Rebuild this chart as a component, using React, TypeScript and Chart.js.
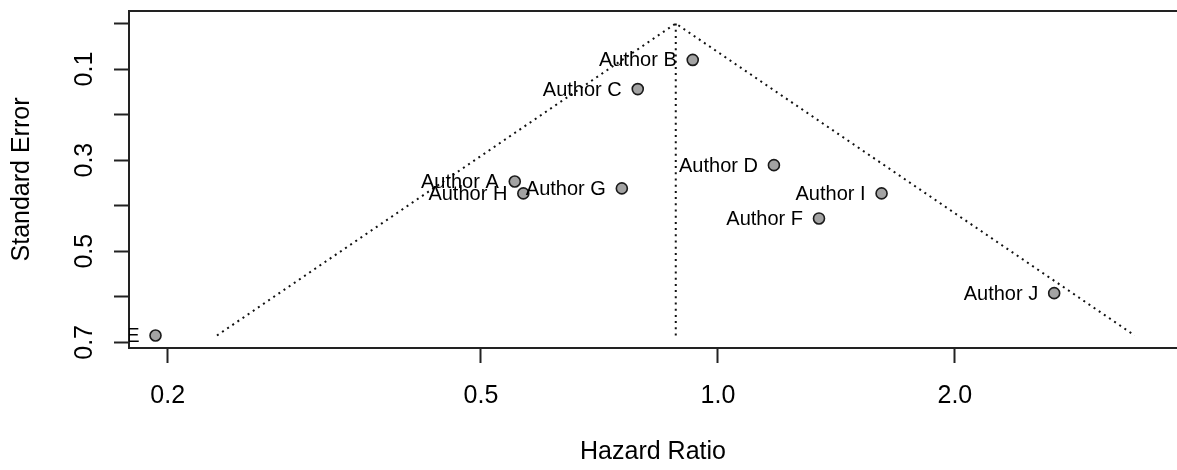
import React, { useEffect, useRef } from 'react';
import { Chart, registerables } from 'chart.js';

Chart.register(...registerables);

// ---- data ----
const studyLabels = ['Author A', 'Author B', 'Author C', 'Author D', 'Author E', 'Author F', 'Author G', 'Author H', 'Author I', 'Author J'];
const hazardRatios = [0.552, 0.929, 0.791, 1.178, 0.193, 1.344, 0.755, 0.566, 1.614, 2.674];
const standardErrors = [0.347, 0.080, 0.144, 0.311, 0.685, 0.428, 0.362, 0.373, 0.373, 0.592];

const pooledEstimate = 0.884;
const funnelLowerHR = 0.231;
const funnelUpperHR = 3.385;
const funnelMaxSE = 0.685;

const xTickValues = [0.2, 0.5, 1, 2];
const xTickLabels = ['0.2', '0.5', '1.0', '2.0'];
const yTickValues = [0, 0.1, 0.2, 0.3, 0.4, 0.5, 0.6, 0.7];
const yTickLabels = ['', '0.1', '', '0.3', '', '0.5', '', '0.7'];

const xAxisTitle = 'Hazard Ratio';
const yAxisTitle = 'Standard Error';

const FONT = "'Liberation Sans', Arial, Helvetica, sans-serif";
const AXIS_COLOR = '#222222';

const topBorderPlugin = {
  id: 'topBorder',
  afterDraw(chart: any) {
    const { ctx, chartArea } = chart;
    ctx.save();
    ctx.strokeStyle = AXIS_COLOR;
    ctx.lineWidth = 2;
    ctx.beginPath();
    ctx.moveTo(chartArea.left - 1, chartArea.top);
    ctx.lineTo(chartArea.right, chartArea.top);
    ctx.stroke();
    ctx.restore();
  },
};

const pointLabelPlugin = {
  id: 'pointLabels',
  afterDatasetsDraw(chart: any) {
    const { ctx, chartArea, scales } = chart;
    ctx.save();
    ctx.beginPath();
    ctx.rect(chartArea.left, chartArea.top, chartArea.right - chartArea.left, chartArea.bottom - chartArea.top);
    ctx.clip();
    ctx.font = `20px ${FONT}`;
    ctx.fillStyle = '#000';
    ctx.textAlign = 'right';
    ctx.textBaseline = 'middle';
    studyLabels.forEach((label, i) => {
      const px = scales.x.getPixelForValue(hazardRatios[i]);
      const py = scales.y.getPixelForValue(standardErrors[i]);
      ctx.fillText(label, px - 16, py + 1);
    });
    ctx.restore();
  },
};

export default function App() {
  const canvasRef = useRef<HTMLCanvasElement | null>(null);

  useEffect(() => {
    if (!canvasRef.current) return;
    Chart.defaults.font.family = FONT;
    Chart.defaults.color = '#000';

    const chart = new Chart(canvasRef.current, {
      type: 'scatter',
      data: {
        datasets: [
          {
            label: 'Studies',
            data: hazardRatios.map((hr, i) => ({ x: hr, y: standardErrors[i] })),
            pointRadius: 5.5,
            pointHoverRadius: 5.5,
            pointBackgroundColor: '#a3a3a3',
            pointBorderColor: '#1a1a1a',
            pointBorderWidth: 1.6,
            showLine: false,
          },
          {
            label: 'Funnel',
            type: 'line',
            data: [
              { x: funnelLowerHR, y: funnelMaxSE },
              { x: pooledEstimate, y: 0 },
              { x: funnelUpperHR, y: funnelMaxSE },
            ],
            borderColor: '#111111',
            borderWidth: 2,
            borderDash: [2, 4.2],
            pointRadius: 0,
            fill: false,
            tension: 0,
          },
          {
            label: 'Estimate',
            type: 'line',
            data: [
              { x: pooledEstimate, y: 0 },
              { x: pooledEstimate, y: funnelMaxSE },
            ],
            borderColor: '#111111',
            borderWidth: 2,
            borderDash: [2, 4.2],
            pointRadius: 0,
            fill: false,
          },
        ],
      },
      options: {
        responsive: false,
        animation: false,
        devicePixelRatio: 1,
        layout: { autoPadding: false, padding: { top: 11, left: 0, right: 0, bottom: 0 } },
        plugins: {
          legend: { display: false },
          tooltip: { enabled: false },
        },
        scales: {
          x: {
            type: 'logarithmic',
            position: 'bottom',
            min: 0.1786,
            max: 3.83,
            afterBuildTicks: (scale: any) => {
              scale.ticks = xTickValues.map((v) => ({ value: v }));
            },
            afterFit: (scale: any) => {
              scale.height = 122;
              scale.paddingLeft = 0;
              scale.paddingRight = 0;
            },
            ticks: {
              autoSkip: false,
              maxRotation: 0,
              minRotation: 0,
              padding: 18,
              color: '#000',
              font: { size: 25, family: FONT },
              callback: (value: any) => {
                const idx = xTickValues.findIndex((v) => Math.abs(v - Number(value)) < 1e-9);
                return idx >= 0 ? xTickLabels[idx] : '';
              },
            },
            grid: {
              display: true,
              drawOnChartArea: false,
              drawTicks: true,
              tickLength: 15,
              tickWidth: 2,
              tickColor: AXIS_COLOR,
            },
            border: { display: true, color: AXIS_COLOR, width: 2 },
            title: {
              display: true,
              text: xAxisTitle,
              color: '#000',
              font: { size: 25, family: FONT },
              padding: { top: 0, bottom: 3 },
            },
          },
          y: {
            type: 'linear',
            position: 'left',
            reverse: true,
            min: -0.0274,
            max: 0.7124,
            afterBuildTicks: (scale: any) => {
              scale.ticks = yTickValues.map((v) => ({ value: v }));
            },
            afterFit: (scale: any) => {
              scale.width = 129;
              scale.paddingTop = 0;
              scale.paddingBottom = 0;
            },
            ticks: {
              autoSkip: false,
              minRotation: 90,
              maxRotation: 90,
              crossAlign: 'center',
              padding: 12,
              color: '#000',
              font: { size: 25, family: FONT },
              callback: (value: any) => {
                const idx = yTickValues.findIndex((v) => Math.abs(v - Number(value)) < 1e-9);
                return idx >= 0 ? yTickLabels[idx] : '';
              },
            },
            grid: {
              display: true,
              drawOnChartArea: false,
              drawTicks: true,
              tickLength: 15,
              tickWidth: 2,
              tickColor: AXIS_COLOR,
            },
            border: { display: true, color: AXIS_COLOR, width: 2 },
            title: {
              display: true,
              text: yAxisTitle,
              color: '#000',
              font: { size: 25, family: FONT },
              padding: { top: 7, bottom: 0 },
            },
          },
        },
      },
      plugins: [topBorderPlugin, pointLabelPlugin],
    } as any);

    return () => {
      chart.destroy();
    };
  }, []);

  return (
    <div style={{ position: 'absolute', left: 0, top: 0, width: 1177, height: 470, background: '#fff' }}>
      <canvas ref={canvasRef} width={1177} height={470} style={{ display: 'block' }} />
    </div>
  );
}
